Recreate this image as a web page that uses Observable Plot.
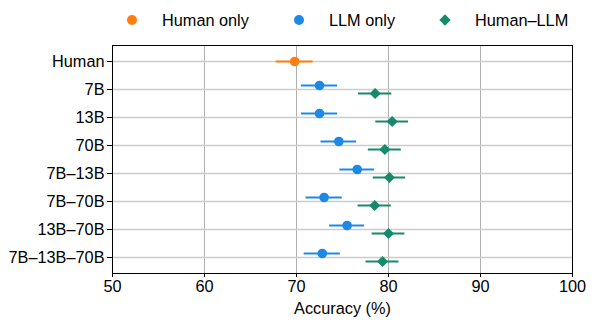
<!DOCTYPE html>
<html>
<head>
<meta charset="utf-8">
<script src="https://cdn.jsdelivr.net/npm/d3@7"></script>
<script src="https://cdn.jsdelivr.net/npm/@observablehq/plot@0.6"></script>
<style>
  body { margin: 0; background: #fff; font-family: "Liberation Sans", Arial, sans-serif; }
  #wrap { width: 594px; }
  #legend { position: relative; width: 594px; height: 40px; font-size: 16.3px; color: #000; }
  .mk { position: absolute; }
  .lab { position: absolute; top: 10px; line-height: 20px; white-space: nowrap; }
  .circ { width: 10px; height: 10px; border-radius: 50%; top: 15px; }
  .diam { width: 8px; height: 8px; transform: rotate(45deg); top: 16px; }
  #chart svg { display: block; }
</style>
</head>
<body>
<div id="wrap">
  <div id="legend"></div>
  <div id="chart"></div>
</div>
<script>
// ---- data ----
const categories = ["Human", "7B", "13B", "70B", "7B–13B", "7B–70B", "13B–70B", "7B–13B–70B"];
const llmModels = ["7B", "13B", "70B", "7B–13B", "7B–70B", "13B–70B", "7B–13B–70B"];
const humanOnlyAcc = [69.8];
const humanOnlyErr = [2.0];
const llmOnlyAcc = [72.5, 72.5, 74.6, 76.6, 73.0, 75.5, 72.8];
const llmOnlyErr = [1.97, 1.97, 1.94, 1.88, 1.97, 1.90, 1.97];
const humanLlmAcc = [78.55, 80.4, 79.6, 80.1, 78.5, 80.0, 79.35];
const humanLlmErr = [1.81, 1.78, 1.79, 1.76, 1.81, 1.78, 1.79];
const xTicks = [50, 60, 70, 80, 90, 100];
const seriesNames = ["Human only", "LLM only", "Human–LLM"];
const seriesColors = ["#ff7f0e", "#1e88e5", "#168a6a"];

// ---- tables ----
const human = [{model: "Human", acc: humanOnlyAcc[0], err: humanOnlyErr[0]}];
const llm = llmModels.map((m, i) => ({model: m, acc: llmOnlyAcc[i], err: llmOnlyErr[i]}));
const hl = llmModels.map((m, i) => ({model: m, acc: humanLlmAcc[i], err: humanLlmErr[i]}));

// ---- legend ----
const legend = document.getElementById("legend");
const legendPos = [[127, 162], [294, 329], [441, 475]];
seriesNames.forEach((name, i) => {
  const mk = document.createElement("div");
  mk.className = "mk " + (i === 2 ? "diam" : "circ");
  mk.style.background = seriesColors[i];
  mk.style.left = legendPos[i][0] + "px";
  legend.appendChild(mk);
  const t = document.createElement("div");
  t.className = "lab";
  t.style.left = legendPos[i][1] + "px";
  t.textContent = name;
  legend.appendChild(t);
});

// ---- chart ----
const chart = Plot.plot({
  width: 594,
  height: 283,
  marginLeft: 112,
  marginRight: 22,
  marginTop: 5,
  marginBottom: 50,
  style: {fontSize: "16.3px", fontFamily: "'Liberation Sans', Arial, sans-serif", color: "#000", background: "#fff"},
  x: {domain: [50, 100]},
  y: {type: "point", domain: categories, padding: 0.5},
  marks: [
    Plot.gridX(xTicks, {stroke: "#b0b0b0", strokeOpacity: 1, strokeWidth: 1}),
    Plot.gridY(categories, {stroke: "#cccccc", strokeOpacity: 1, strokeWidth: 1.5}),
    Plot.frame({stroke: "#000", strokeWidth: 1}),
    Plot.axisX({ticks: xTicks, tickSize: 4, tickPadding: 3, fontSize: 16.3, label: "Accuracy (%)", labelAnchor: "center", labelArrow: "none", labelOffset: 40}),
    Plot.axisY({tickSize: 5, tickPadding: 3, fontSize: 16.3, label: null}),
    Plot.ruleY(human, {y: "model", x1: d => d.acc - d.err, x2: d => d.acc + d.err, stroke: seriesColors[0], strokeWidth: 2}),
    Plot.dot(human, {x: "acc", y: "model", r: 4.8, fill: seriesColors[0], stroke: null}),
    Plot.ruleY(llm, {y: "model", x1: d => d.acc - d.err, x2: d => d.acc + d.err, stroke: seriesColors[1], strokeWidth: 2, dy: -4}),
    Plot.dot(llm, {x: "acc", y: "model", r: 4.8, fill: seriesColors[1], stroke: null, dy: -4}),
    Plot.ruleY(hl, {y: "model", x1: d => d.acc - d.err, x2: d => d.acc + d.err, stroke: seriesColors[2], strokeWidth: 2, dy: 4}),
    Plot.dot(hl, {x: "acc", y: "model", r: 5, symbol: "diamond2", fill: seriesColors[2], stroke: null, dy: 4})
  ]
});
document.getElementById("chart").appendChild(chart);
</script>
</body>
</html>
